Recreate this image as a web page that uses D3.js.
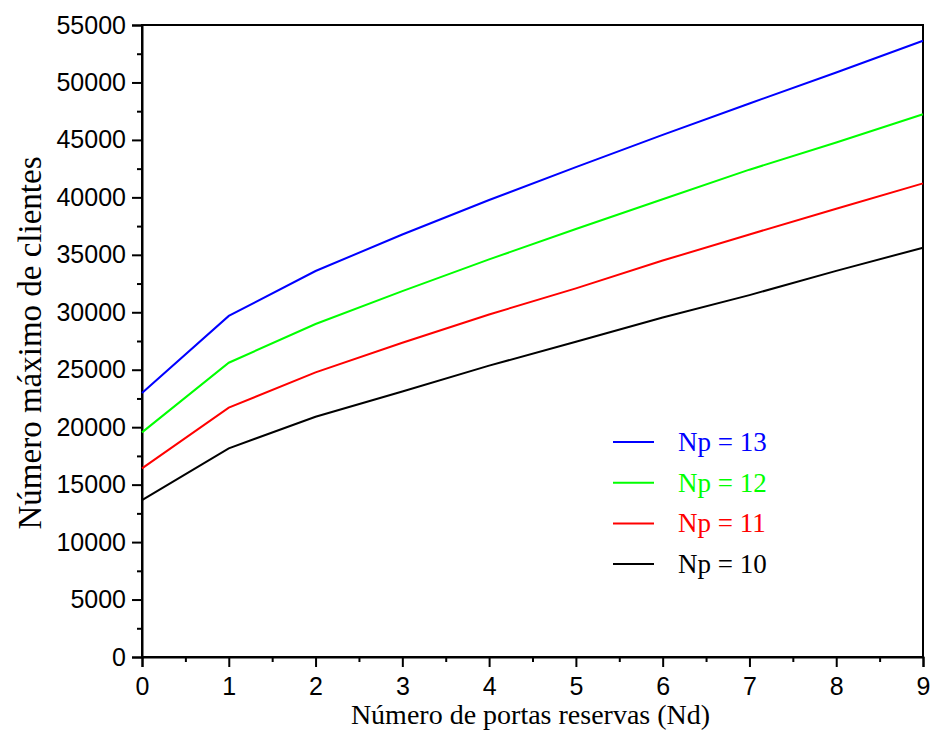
<!DOCTYPE html>
<html>
<head>
<meta charset="utf-8">
<script src="https://cdn.jsdelivr.net/npm/d3@7"></script>
<style>
  body { margin: 0; background: #fff; }
  svg { display: block; }
</style>
</head>
<body>
<div id="chart"></div>
<script>
// x: number of reserve ports
const portas = [0, 1, 2, 3, 4, 5, 6, 7, 8, 9];
const np13 = [22980, 29680, 33590, 36770, 39770, 42630, 45440, 48170, 50870, 53630];
const np12 = [19550, 25610, 28980, 31840, 34600, 37250, 39830, 42410, 44780, 47230];
const np11 = [16420, 21700, 24775, 27350, 29810, 32080, 34500, 36770, 39010, 41220];
const np10 = [13660, 18160, 20910, 23100, 25360, 27430, 29540, 31490, 33600, 35620];
const seriesNames = ['Np = 13', 'Np = 12', 'Np = 11', 'Np = 10'];
const seriesColors = ['#0000ff', '#00ff00', '#ff0000', '#000000'];
const yTicks = d3.range(0, 55001, 5000);

const width = 932, height = 753;
const margin = { top: 25, right: 9, bottom: 96, left: 142 };
const innerW = width - margin.left - margin.right;
const innerH = height - margin.top - margin.bottom;

const svg = d3.select('#chart').append('svg')
    .attr('width', width)
    .attr('height', height);

const g = svg.append('g').attr('transform', `translate(${margin.left},${margin.top})`);

const x = d3.scaleLinear().domain([0, 9]).range([0, innerW]);
const y = d3.scaleLinear().domain([0, 55000]).range([innerH, 0]);

// minor ticks first
g.append('g')
    .attr('transform', `translate(0,${innerH})`)
    .call(d3.axisBottom(x).tickValues(d3.range(0.5, 9, 1)).tickSize(5).tickFormat(''))
    .call(a => a.select('.domain').remove())
    .selectAll('line').attr('stroke-width', 2);

g.append('g')
    .call(d3.axisLeft(y).tickValues(d3.range(2500, 55000, 5000)).tickSize(5).tickFormat(''))
    .call(a => a.select('.domain').remove())
    .selectAll('line').attr('stroke-width', 2);

// frame
g.append('rect')
    .attr('width', innerW)
    .attr('height', innerH)
    .attr('fill', 'none')
    .attr('stroke', '#000')
    .attr('stroke-width', 2);

const xAxis = g.append('g')
    .attr('transform', `translate(0,${innerH})`)
    .call(d3.axisBottom(x).tickValues(portas).tickSize(10).tickPadding(10).tickFormat(d3.format('d')));
xAxis.select('.domain').attr('stroke-width', 2);
xAxis.selectAll('line').attr('stroke-width', 2);
xAxis.selectAll('text')
    .attr('font-family', 'Liberation Sans, Arial, sans-serif')
    .attr('font-size', 25)
    .attr('fill', '#000');

const yAxis = g.append('g')
    .call(d3.axisLeft(y).tickValues(yTicks).tickSize(10).tickPadding(6).tickFormat(d3.format('d')));
yAxis.select('.domain').attr('stroke-width', 2);
yAxis.selectAll('line').attr('stroke-width', 2);
yAxis.selectAll('text')
    .attr('font-family', 'Liberation Sans, Arial, sans-serif')
    .attr('font-size', 25)
    .attr('fill', '#000');

// lines
const allSeries = [np13, np12, np11, np10];
const line = d3.line()
    .x((d, i) => x(portas[i]))
    .y(d => y(d));

allSeries.forEach((s, k) => {
    g.append('path')
        .datum(s)
        .attr('fill', 'none')
        .attr('stroke', seriesColors[k])
        .attr('stroke-width', 2)
        .attr('d', line);
});

// legend
const legend = g.append('g').attr('transform', `translate(${613 - margin.left},${442 - margin.top})`);
seriesNames.forEach((name, k) => {
    const row = legend.append('g').attr('transform', `translate(0,${k * 40.7})`);
    row.append('line')
        .attr('x1', 0).attr('x2', 41)
        .attr('stroke', seriesColors[k])
        .attr('stroke-width', 2);
    row.append('text')
        .attr('x', 65)
        .attr('y', 9)
        .attr('font-family', 'Liberation Serif, Times New Roman, serif')
        .attr('font-size', 27)
        .attr('fill', seriesColors[k])
        .text(name);
});

// axis titles
svg.append('text')
    .attr('x', margin.left + innerW / 2 - 2)
    .attr('y', 724)
    .attr('text-anchor', 'middle')
    .attr('font-family', 'Liberation Serif, Times New Roman, serif')
    .attr('font-size', 28)
    .text('Número de portas reservas (Nd)');

svg.append('text')
    .attr('transform', `translate(41,${margin.top + innerH / 2 + 2}) rotate(-90)`)
    .attr('text-anchor', 'middle')
    .attr('font-family', 'Liberation Serif, Times New Roman, serif')
    .attr('font-size', 33)
    .text('Número máximo de clientes');
</script>
</body>
</html>
